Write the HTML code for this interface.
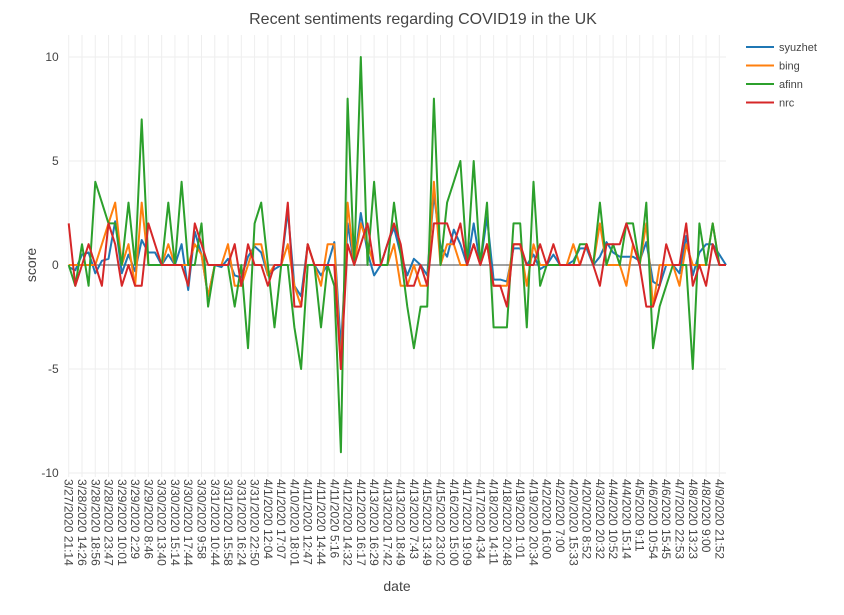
<!DOCTYPE html>
<html><head><meta charset="utf-8"><style>
body{margin:0;background:#fff;font-family:"Liberation Sans",sans-serif}
svg text{font-family:"Liberation Sans",sans-serif;fill:#444}
</style></head><body>
<svg id="chart" width="844" height="610">
<text x="423" y="24" text-anchor="middle" font-size="16">Recent sentiments regarding COVID19 in the UK</text>
<g id="grid"></g><g id="series"></g><g id="axes"></g>
<text transform="translate(36,265) rotate(-90)" text-anchor="middle" font-size="14">score</text>
<text x="397" y="591" text-anchor="middle" font-size="14">date</text>
<g id="legend"></g>
</svg>
<script>
const tickLabels=["3/27/2020 21:14","3/28/2020 14:26","3/28/2020 18:56","3/28/2020 23:47","3/29/2020 10:01","3/29/2020 2:29","3/29/2020 8:46","3/30/2020 13:40","3/30/2020 15:14","3/30/2020 17:44","3/30/2020 9:58","3/31/2020 10:44","3/31/2020 15:58","3/31/2020 16:24","3/31/2020 22:50","4/1/2020 12:04","4/1/2020 17:07","4/10/2020 18:01","4/11/2020 12:47","4/11/2020 14:44","4/11/2020 5:16","4/12/2020 14:32","4/12/2020 16:17","4/13/2020 16:29","4/13/2020 17:42","4/13/2020 18:49","4/13/2020 7:43","4/15/2020 13:49","4/15/2020 23:02","4/16/2020 15:00","4/17/2020 19:09","4/17/2020 4:34","4/18/2020 14:11","4/18/2020 20:48","4/19/2020 1:01","4/19/2020 20:34","4/2/2020 16:00","4/2/2020 7:00","4/20/2020 15:33","4/20/2020 8:52","4/3/2020 20:32","4/4/2020 10:52","4/4/2020 15:14","4/5/2020 9:11","4/6/2020 10:54","4/6/2020 15:45","4/7/2020 22:53","4/8/2020 13:23","4/8/2020 9:00","4/9/2020 21:52"];
const yTicks=[10,5,0,-5,-10];
const syuzhet=[-0.1,-0.25,0.5,0.6,-0.4,0.2,0.3,2.1,-0.4,0.5,-0.3,1.2,0.6,0.6,0,0.5,0,1,-1.2,1.6,0.5,-1.5,0,-0.1,0.3,-0.5,-0.6,0.4,0.9,0.6,-0.5,-0.2,0,2.6,-1,-1.5,1,0,-0.5,0,1.1,-4,2,0,2.5,0.6,-0.5,0,1,1.8,0.5,-0.5,0.3,0,-0.5,3.4,0.9,0.4,1.7,1,0,2,0,2.3,-0.7,-0.7,-0.8,0.8,0.8,0,0.5,-0.2,0,0.5,0,0,0.2,0.8,0.8,0,0.4,1.1,0.6,0.4,0.4,0.4,0.2,1.1,-0.8,-1,0,0,-0.4,1.4,-0.5,0.6,1,1,0.5,0];
const bing=[0,0,0,0,0,1,2,3,0,1,-1,3,0,0,0,1,0,0,0,1,0.5,-1.5,0,0,1,-1,-1,0,1,1,-0.5,0,0,1,-1,-2,1,0,-1,1,1,-5,3,0,2,1,0,0,0,1,-1,-1,0,-1,-1,4,0,1,1,0,0,1,0,1,-1,-1,-1,1,1,-1,1,0,0,0,0,0,1,0,1,0,2,0,0,0,-1,1,0,2,-2,0,0,0,-1,1,0,0,0,2,0,0];
const afinn=[0,-1,1,-1,4,3,2,2,0,3,0,7,0,0,0,3,0,4,0,0,2,-2,0,0,0,-2,0,-4,2,3,0,-3,0,0,-3,-5,0,0,-3,0,-1,-9,8,0,10,0,4,0,0,3,0.5,-2,-4,-2,-2,8,0,3,4,5,0,5,0,3,-3,-3,-3,2,2,-3,4,-1,0,0,0,0,0,1,1,0,3,0,1,0,2,2,0,3,-4,-2,-1,0,0,0,-5,2,0,2,0,0];
const nrc=[2,-1,0,1,0,-1,2,1,-1,0,-1,-1,2,1,0,0,0,0,-1,2,1,0,0,0,0,1,-1,1,0,0,-1,0,0,3,-2,-2,1,0,0,0,0,-5,1,0,1,2,0,0,1,2,1,-1,-1,0,-1,2,2,2,1,2,0,1,0,1,-1,-1,-2,1,1,0,0,1,0,1,0,0,0,0,1,0,-1,1,1,1,2,1,0,-2,-2,-1,1,0,0,2,-1,0,-1,1,0,0];
const names=["syuzhet","bing","afinn","nrc"];
const colors=["#1f77b4","#ff7f0e","#2ca02c","#d62728"];
const allSeries=[syuzhet,bing,afinn,nrc];
const NS="http://www.w3.org/2000/svg";
const X0=68.7,X1=726,Y10=57,YM10=473;
const n=syuzhet.length;
const xs=i=>X0+(X1-X0)*i/(n-1);
const ys=v=>Y10+(10-v)*(YM10-Y10)/20;
function mk(t,a,p){const e=document.createElementNS(NS,t);for(const k in a)e.setAttribute(k,a[k]);p.appendChild(e);return e;}
const grid=document.getElementById('grid'),axes=document.getElementById('axes');
tickLabels.forEach((lab,j)=>{const x=xs(j*2);
 const g=mk('line',{x1:x,x2:x,y1:35,y2:477,stroke:'#eee','stroke-width':1},grid);
 
 
 const t=mk('text',{transform:`translate(${x-4},479) rotate(90)`,'font-size':12},axes);
 t.textContent=lab;
 
 
});
yTicks.forEach(v=>{const y=ys(v);
 if(v!==0){const g=mk('line',{x1:X0,x2:X1,y1:y,y2:y,stroke:'#eee','stroke-width':1},grid);
 
 }
 const t=mk('text',{x:X0-10,y:y+4,'text-anchor':'end','font-size':12},axes);
 t.textContent=v;
 
 
});
const zl=mk('line',{x1:X0,x2:X1,y1:ys(0),y2:ys(0),stroke:'#444','stroke-width':1},grid);


const sg=document.getElementById('series'),lg=document.getElementById('legend');
allSeries.forEach((d,s)=>{
 const p=mk('polyline',{points:d.map((v,i)=>xs(i).toFixed(1)+','+ys(v).toFixed(1)).join(' '),fill:'none',stroke:colors[s],'stroke-width':2,'stroke-linejoin':'round'},sg);
 
 
 const y=47+s*18.5;
 const g=mk('g',{},lg);
 
 
 mk('line',{x1:746,x2:774,y1:y,y2:y,stroke:colors[s],'stroke-width':2},g);
 const t=mk('text',{x:779,y:y+4,'font-size':11},g);t.textContent=names[s];
});
</script>
</body></html>
